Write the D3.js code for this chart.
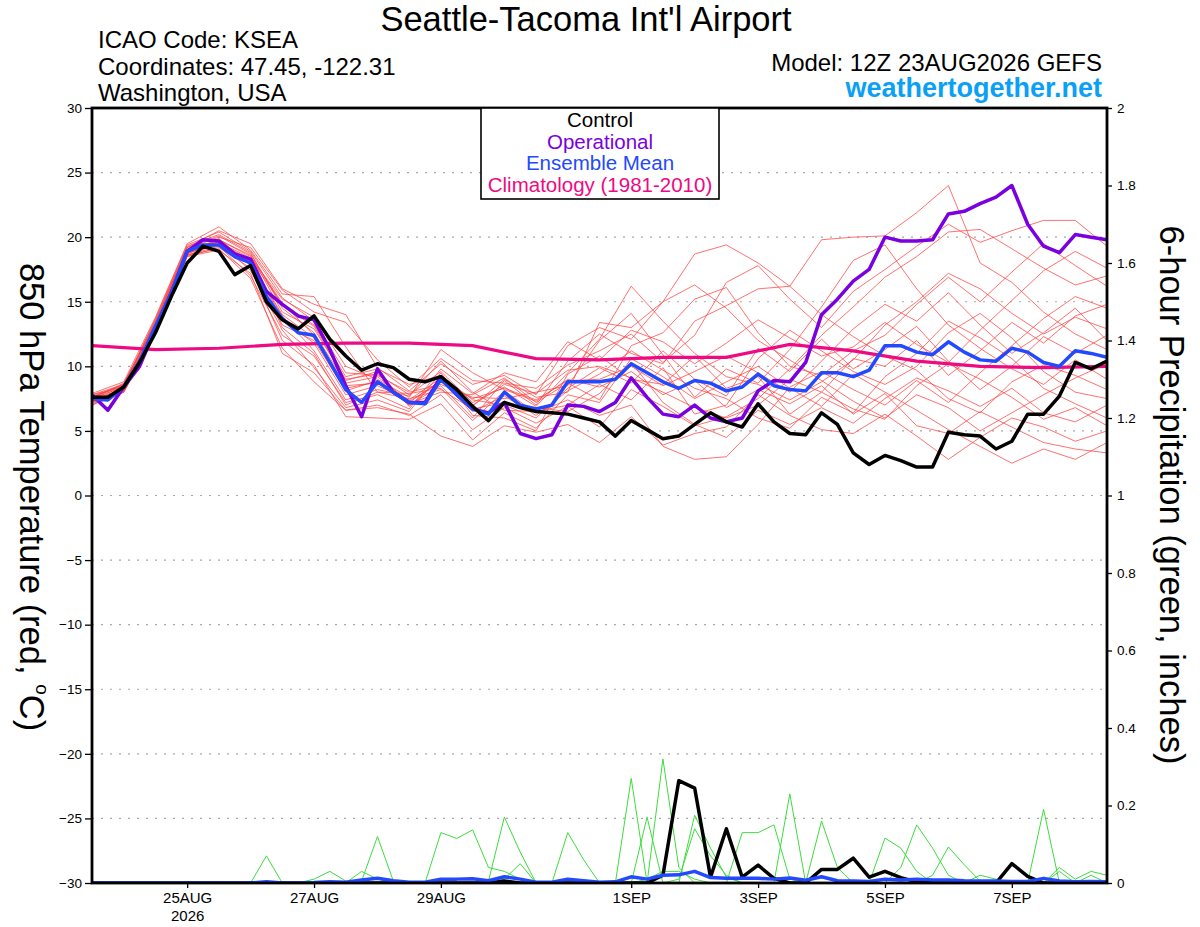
<!DOCTYPE html>
<html lang="en">
<head>
<meta charset="utf-8">
<title>KSEA GEFS 850 hPa Temperature</title>
<script src="https://cdnjs.cloudflare.com/ajax/libs/d3/7.8.5/d3.min.js"></script>
<style>
  body { margin: 0; background: #fff; }
  svg text { font-family: "Liberation Sans", Arial, sans-serif; }
</style>
</head>
<body>
<div id="chart"></div>
<script>
// run 12Z 23AUG2026, 6-hourly to 384h
const runStart = Date.UTC(2026, 7, 23, 12);
const runEnd = Date.UTC(2026, 8, 8, 12);
const tickDates = [Date.UTC(2026, 7, 25), Date.UTC(2026, 7, 27), Date.UTC(2026, 7, 29),
  Date.UTC(2026, 8, 1), Date.UTC(2026, 8, 3), Date.UTC(2026, 8, 5), Date.UTC(2026, 8, 7)];
const tempTicks = [-30, -25, -20, -15, -10, -5, 0, 5, 10, 15, 20, 25, 30];
const precipTicks = [0, 0.2, 0.4, 0.6, 0.8, 1, 1.2, 1.4, 1.6, 1.8, 2];
const legendItems = ["Control", "Operational", "Ensemble Mean", "Climatology (1981-2010)"];

// 850 hPa temperature, 6-hourly (65 points)
const control = [7.6, 7.6, 8.4, 10.3, 12.6, 15.4, 18.0, 19.3, 18.9, 17.1,
  17.8, 15.0, 13.6, 12.9, 13.9, 12.1, 10.8, 9.7, 10.2, 9.9,
  9.0, 8.8, 9.2, 8.2, 6.9, 5.8, 7.2, 6.8, 6.5, 6.4,
  6.3, 6.0, 5.7, 4.6, 5.8, 5.1, 4.4, 4.6, 5.5, 6.4,
  5.7, 5.3, 7.1, 5.7, 4.8, 4.7, 6.4, 5.5, 3.3, 2.4,
  3.1, 2.7, 2.2, 2.2, 4.9, 4.7, 4.6, 3.6, 4.2, 6.3,
  6.3, 7.7, 10.3, 9.8, 10.4];
const operational = [7.8, 6.6, 8.4, 10.0, 12.9, 15.7, 18.9, 19.8, 19.7, 18.7,
  18.3, 15.8, 14.8, 13.9, 13.6, 11.3, 8.5, 6.1, 9.8, 8.0,
  7.2, 7.2, 9.2, 7.8, 6.7, 6.4, 7.2, 4.8, 4.4, 4.7,
  7.0, 6.9, 6.5, 7.2, 9.1, 7.6, 6.3, 6.1, 7.0, 6.0,
  5.7, 6.0, 8.1, 8.9, 8.8, 10.3, 14.0, 15.2, 16.6, 17.5,
  20.0, 19.7, 19.7, 19.8, 21.8, 22.0, 22.6, 23.1, 24.0, 21.0,
  19.3, 18.8, 20.2, 20.0, 19.8];
const ensMean = [7.5, 7.4, 8.4, 10.4, 13.1, 15.7, 18.9, 19.4, 19.4, 18.5,
  18.0, 15.4, 13.7, 12.6, 12.4, 10.3, 8.2, 7.2, 8.8, 8.0,
  7.2, 7.1, 9.0, 7.8, 6.7, 6.3, 8.0, 7.0, 6.7, 7.0,
  8.8, 8.8, 8.8, 9.0, 10.2, 9.5, 8.8, 8.3, 8.9, 8.7,
  8.1, 8.4, 9.4, 8.5, 8.2, 8.1, 9.5, 9.5, 9.2, 9.7,
  11.6, 11.6, 11.1, 10.9, 11.9, 11.1, 10.5, 10.4, 11.4, 11.1,
  10.3, 10.0, 11.2, 11.0, 10.7];
// daily climatology (17 points)
const climatology = [11.6, 11.3, 11.4, 11.7, 11.8, 11.8, 11.6, 10.6, 10.5,
  10.7, 10.7, 11.7, 11.2, 10.4, 10.0, 9.9, 10.0];

// ensemble members, 12-hourly (33 points)
const members = [
  [7.3, 8.2, 12.8, 18.7, 19.8, 18.6, 14.2, 12.9, 9.0, 9.4, 7.8, 9.6, 7.2, 8.4, 6.9, 9.5, 12.1, 16.2, 13.5, 11.0, 9.2, 8.6, 7.4, 8.8, 10.5, 13.2, 15.0, 17.2, 16.0, 14.1, 12.5, 13.8, 12.9],
  [7.8, 8.6, 13.5, 19.2, 20.5, 19.5, 16.0, 14.8, 14.0, 9.9, 8.1, 10.2, 8.6, 9.3, 7.8, 11.6, 13.0, 12.1, 15.0, 18.7, 19.4, 18.0, 16.2, 14.0, 12.3, 10.8, 9.7, 7.5, 6.4, 8.8, 10.1, 9.3, 8.2],
  [7.0, 8.0, 12.6, 18.5, 19.0, 17.2, 11.0, 9.5, 6.6, 7.0, 6.2, 7.8, 5.1, 6.8, 5.6, 6.9, 5.3, 8.2, 6.9, 5.4, 6.1, 7.5, 9.8, 12.4, 14.6, 16.9, 18.5, 20.4, 20.6, 19.1, 17.6, 16.3, 17.0],
  [7.6, 8.5, 13.3, 19.0, 19.4, 18.1, 13.6, 11.8, 7.8, 8.5, 7.4, 9.1, 6.5, 7.7, 6.2, 8.1, 9.4, 11.2, 9.7, 8.3, 7.5, 6.0, 5.2, 7.6, 6.4, 9.2, 11.0, 13.5, 12.2, 10.6, 8.3, 7.1, 6.0],
  [7.2, 8.3, 13.0, 18.8, 19.9, 17.8, 13.2, 12.0, 8.1, 8.9, 7.0, 8.5, 6.0, 8.9, 7.0, 10.4, 12.5, 11.0, 10.2, 13.5, 14.7, 16.0, 16.2, 19.8, 20.0, 20.1, 21.9, 24.0, 18.0, 16.5, 14.2, 12.5, 11.3],
  [7.5, 8.4, 13.1, 19.0, 19.6, 18.4, 15.2, 13.8, 10.0, 9.0, 7.6, 11.3, 9.5, 8.2, 7.3, 9.0, 8.4, 9.6, 7.8, 8.9, 6.8, 8.2, 7.1, 8.5, 6.3, 7.9, 5.4, 4.8, 6.5, 5.3, 4.1, 3.6, 3.3],
  [7.4, 8.1, 12.9, 18.6, 19.3, 17.0, 12.4, 10.8, 7.2, 7.8, 6.7, 9.8, 7.9, 9.5, 8.8, 11.9, 10.5, 12.8, 11.9, 10.2, 11.8, 13.6, 12.2, 10.8, 11.5, 13.4, 11.7, 10.3, 12.8, 15.1, 17.4, 18.9, 17.6],
  [7.9, 8.8, 13.8, 19.5, 20.8, 19.0, 15.6, 15.4, 11.5, 8.0, 7.9, 8.3, 5.8, 8.1, 6.4, 7.4, 6.2, 7.0, 3.8, 2.8, 3.0, 5.5, 8.4, 9.6, 8.2, 7.0, 8.9, 7.2, 9.5, 11.6, 13.7, 15.4, 14.5],
  [7.1, 8.0, 12.5, 18.9, 19.5, 18.3, 14.8, 13.2, 9.2, 9.8, 8.6, 9.3, 7.4, 7.0, 6.0, 8.3, 9.9, 8.7, 11.2, 9.0, 7.7, 11.4, 9.6, 12.1, 9.8, 11.3, 13.1, 10.4, 8.2, 10.0, 12.3, 11.0, 12.4],
  [7.6, 8.6, 13.6, 19.3, 20.2, 18.8, 14.5, 12.6, 8.7, 9.2, 7.3, 8.8, 6.9, 9.0, 7.6, 8.0, 13.4, 13.0, 15.0, 16.3, 14.5, 12.0, 10.5, 8.9, 7.3, 6.0, 7.8, 6.8, 5.0, 6.4, 7.8, 9.1, 10.2],
  [7.3, 8.3, 12.7, 18.5, 19.2, 17.6, 12.0, 10.1, 6.1, 6.0, 5.9, 7.1, 4.3, 6.4, 5.2, 7.8, 7.2, 10.6, 9.2, 7.5, 8.8, 10.0, 8.3, 6.9, 9.4, 8.0, 6.6, 5.1, 3.8, 2.5, 3.6, 2.8, 4.1],
  [7.7, 8.5, 13.4, 19.1, 20.0, 19.2, 15.9, 14.2, 13.4, 10.5, 8.4, 10.6, 8.9, 8.7, 8.3, 10.1, 11.2, 12.5, 10.3, 12.4, 16.5, 17.8, 15.2, 13.0, 15.8, 17.5, 19.3, 21.0, 19.6, 20.5, 21.3, 21.3, 19.3],
  [7.2, 8.0, 12.6, 18.7, 19.7, 17.4, 12.8, 9.9, 6.8, 7.4, 6.5, 9.5, 6.2, 6.0, 5.0, 9.4, 10.8, 9.0, 8.6, 10.8, 8.3, 9.2, 6.3, 8.0, 6.7, 5.9, 8.5, 10.2, 9.0, 7.6, 5.9, 6.8, 5.4],
  [7.5, 8.7, 13.2, 18.9, 19.8, 18.5, 14.9, 12.4, 8.5, 8.7, 7.1, 8.0, 7.8, 9.1, 7.2, 8.7, 7.4, 11.6, 12.6, 15.2, 16.1, 12.6, 10.0, 9.3, 11.2, 12.4, 14.8, 16.9, 15.0, 17.3, 19.5, 17.8, 16.2],
  [7.0, 8.2, 12.9, 18.6, 19.1, 16.8, 11.4, 8.8, 6.6, 6.8, 6.3, 4.6, 3.8, 5.4, 4.9, 5.5, 4.1, 6.1, 3.9, 4.8, 5.3, 7.8, 6.2, 5.1, 4.8, 6.3, 4.6, 2.8, 4.5, 6.0, 5.3, 4.2, 5.0],
  [7.8, 8.4, 13.7, 19.4, 20.4, 18.9, 15.3, 13.5, 9.5, 9.3, 8.0, 8.6, 7.6, 7.5, 8.0, 8.5, 12.0, 14.1, 10.9, 7.6, 9.8, 8.7, 11.3, 14.6, 18.2, 19.4, 16.0, 13.2, 11.4, 9.8, 8.6, 10.5, 9.0],
  [7.4, 8.3, 13.0, 18.8, 19.4, 17.9, 13.9, 11.2, 7.4, 8.2, 7.7, 10.4, 8.0, 6.6, 6.5, 7.0, 8.6, 7.4, 9.9, 6.3, 7.0, 10.6, 12.8, 11.2, 9.6, 8.6, 10.0, 12.6, 14.1, 12.2, 9.6, 8.0, 7.5],
  [7.6, 8.6, 13.4, 19.2, 20.1, 18.7, 14.7, 13.1, 8.9, 9.6, 6.9, 9.0, 7.0, 8.6, 7.9, 9.7, 10.0, 9.1, 8.0, 6.8, 6.0, 7.0, 9.0, 8.0, 10.6, 10.0, 12.0, 9.3, 11.2, 13.4, 11.8, 13.9, 14.8],
  [7.3, 8.1, 12.8, 18.6, 19.5, 18.2, 13.0, 11.0, 7.0, 8.0, 7.5, 8.2, 6.7, 7.2, 6.8, 6.5, 7.9, 10.3, 7.2, 5.5, 4.5, 6.6, 5.5, 6.8, 5.6, 7.5, 9.1, 8.1, 6.9, 8.3, 6.4, 5.7, 7.0],
  [7.5, 8.4, 13.1, 18.9, 19.6, 18.0, 14.0, 12.2, 8.3, 8.8, 7.2, 8.9, 7.5, 8.3, 7.4, 8.9, 9.0, 10.0, 8.5, 9.6, 10.8, 9.5, 8.0, 10.4, 12.9, 14.8, 13.5, 15.7, 13.2, 11.0, 12.6, 14.5, 12.0]
];

// 6-hour precipitation (inches), 6-hourly (65 points)
const controlPrecip = [0, 0, 0, 0, 0, 0, 0, 0, 0, 0,
  0, 0, 0, 0, 0, 0, 0, 0, 0, 0,
  0, 0, 0, 0, 0, 0, 0.005, 0, 0, 0,
  0, 0, 0, 0, 0, 0, 0.02, 0.264, 0.245, 0.015,
  0.14, 0.015, 0.046, 0.012, 0, 0, 0.035, 0.035, 0.064, 0.015,
  0.03, 0.014, 0.003, 0, 0, 0, 0, 0, 0.05, 0.017,
  0, 0, 0, 0, 0];
const meanPrecip = [0, 0, 0, 0, 0, 0, 0, 0, 0, 0,
  0, 0.003, 0, 0, 0.001, 0.003, 0.002, 0.008, 0.012, 0.006,
  0.002, 0.002, 0.01, 0.01, 0.011, 0.006, 0.016, 0.01, 0.002, 0.002,
  0.01, 0.006, 0.002, 0.003, 0.016, 0.01, 0.02, 0.021, 0.03, 0.014,
  0.012, 0.012, 0.012, 0.01, 0.013, 0.007, 0.016, 0.006, 0.005, 0.004,
  0.01, 0.008, 0.01, 0.008, 0.008, 0.006, 0.005, 0.005, 0.004, 0.004,
  0.012, 0.005, 0.003, 0.004, 0.003];
const memberPrecip = [
  [0.003, 0, 0, 0, 0, 0, 0, 0, 0, 0, 0, 0.07, 0, 0, 0, 0, 0, 0, 0, 0, 0, 0, 0, 0, 0, 0, 0, 0, 0, 0, 0, 0, 0, 0, 0, 0, 0, 0, 0, 0, 0, 0, 0, 0, 0, 0, 0, 0, 0, 0, 0, 0, 0, 0, 0, 0, 0, 0, 0, 0, 0, 0, 0, 0, 0],
  [0, 0, 0, 0, 0, 0, 0, 0, 0, 0, 0, 0, 0, 0, 0.01, 0.03, 0.005, 0, 0, 0, 0, 0, 0, 0, 0, 0, 0, 0, 0, 0, 0.13, 0.06, 0, 0, 0, 0, 0, 0, 0, 0, 0, 0, 0, 0, 0, 0, 0, 0, 0, 0, 0, 0, 0, 0, 0, 0, 0, 0, 0, 0, 0.19, 0, 0, 0, 0],
  [0, 0, 0, 0, 0, 0, 0, 0, 0, 0, 0, 0, 0, 0, 0, 0, 0, 0.005, 0.12, 0.005, 0, 0, 0, 0, 0, 0, 0, 0, 0, 0, 0, 0, 0, 0, 0, 0.17, 0, 0, 0, 0, 0, 0, 0, 0, 0, 0, 0.16, 0.04, 0, 0, 0, 0, 0, 0, 0, 0, 0, 0, 0, 0, 0, 0, 0, 0, 0],
  [0, 0, 0, 0, 0, 0, 0, 0, 0, 0, 0, 0, 0, 0, 0, 0, 0, 0.03, 0.01, 0, 0, 0, 0, 0, 0, 0, 0, 0, 0, 0, 0, 0, 0, 0, 0.27, 0, 0, 0, 0, 0, 0, 0, 0, 0, 0, 0, 0, 0, 0, 0, 0.116, 0.09, 0.03, 0, 0, 0, 0, 0, 0, 0, 0, 0, 0, 0, 0],
  [0, 0, 0, 0, 0, 0, 0, 0, 0, 0, 0, 0, 0, 0, 0, 0, 0, 0, 0, 0, 0, 0, 0.13, 0.115, 0.137, 0.04, 0.03, 0.01, 0, 0, 0, 0, 0, 0, 0, 0, 0, 0, 0, 0, 0, 0, 0, 0, 0.23, 0, 0, 0, 0, 0, 0, 0, 0, 0, 0, 0, 0, 0, 0, 0, 0, 0, 0, 0, 0],
  [0, 0, 0, 0, 0, 0, 0, 0, 0, 0, 0, 0, 0, 0, 0, 0, 0, 0, 0, 0, 0, 0, 0, 0, 0, 0.005, 0.17, 0.08, 0, 0, 0, 0, 0, 0, 0, 0, 0.32, 0.04, 0, 0, 0, 0, 0, 0, 0, 0, 0, 0, 0, 0, 0, 0, 0, 0.02, 0.093, 0.047, 0.005, 0, 0, 0, 0, 0, 0, 0, 0],
  [0, 0, 0, 0, 0, 0, 0, 0, 0, 0, 0, 0, 0, 0, 0, 0, 0, 0, 0, 0, 0, 0, 0, 0, 0, 0, 0.01, 0.05, 0, 0, 0, 0, 0, 0, 0, 0, 0, 0, 0.175, 0.09, 0.015, 0, 0, 0, 0, 0, 0, 0, 0, 0, 0, 0, 0, 0, 0, 0, 0, 0, 0, 0, 0, 0.03, 0, 0, 0],
  [0, 0, 0, 0, 0, 0, 0, 0, 0, 0, 0, 0, 0, 0, 0, 0, 0, 0, 0, 0, 0, 0, 0, 0, 0, 0, 0, 0, 0, 0, 0, 0, 0, 0, 0, 0, 0, 0.01, 0.14, 0.07, 0.02, 0, 0, 0, 0, 0, 0, 0, 0, 0, 0, 0.04, 0.15, 0.09, 0.02, 0, 0, 0, 0, 0, 0, 0, 0, 0, 0],
  [0, 0, 0, 0, 0, 0, 0, 0, 0, 0, 0, 0, 0, 0, 0, 0, 0, 0, 0, 0, 0, 0, 0, 0, 0, 0, 0, 0, 0, 0, 0, 0, 0, 0, 0, 0, 0, 0, 0, 0, 0, 0.13, 0.13, 0.15, 0.01, 0, 0, 0, 0, 0, 0, 0, 0, 0, 0, 0, 0, 0, 0, 0, 0, 0, 0, 0.02, 0],
  [0, 0, 0, 0, 0, 0, 0, 0, 0, 0, 0, 0, 0, 0, 0, 0, 0, 0, 0, 0, 0, 0, 0, 0, 0, 0, 0, 0, 0, 0, 0, 0, 0, 0, 0, 0.01, 0.03, 0.03, 0.01, 0, 0, 0, 0, 0, 0, 0, 0, 0, 0, 0, 0, 0, 0, 0, 0, 0, 0.02, 0.01, 0, 0, 0, 0.04, 0.01, 0.03, 0.02]
];

const W = 1200, H = 927;
const plot = { left: 92, right: 1107, top: 108, bottom: 883 };

const svg = d3.select("#chart").append("svg")
  .attr("width", W).attr("height", H)
  .style("display", "block");

const x = d3.scaleUtc().domain([runStart, runEnd]).range([plot.left, plot.right]);
const yT = d3.scaleLinear().domain([-30, 30]).range([plot.bottom, plot.top]);
const yP = d3.scaleLinear().domain([0, 2]).range([plot.bottom, plot.top]);

// time of the i-th point for a series sampled every `hours`
const at = (i, hours) => new Date(runStart + i * hours * 3600e3);
const tempLine = hours => d3.line().x((d, i) => x(at(i, hours))).y(d => yT(d));
const precipLine = d3.line().x((d, i) => x(at(i, 6))).y(d => yP(d));

svg.append("defs").append("clipPath").attr("id", "plotclip")
  .append("rect")
  .attr("x", plot.left).attr("y", plot.top)
  .attr("width", plot.right - plot.left).attr("height", plot.bottom - plot.top);

// dotted grid every 5 deg
svg.append("g").selectAll("line")
  .data(tempTicks.filter(v => v > -30 && v < 30))
  .join("line")
  .attr("x1", plot.left).attr("x2", plot.right)
  .attr("y1", d => yT(d)).attr("y2", d => yT(d))
  .attr("stroke", "#a8a8a8").attr("stroke-width", 1.2)
  .attr("stroke-dasharray", "2,7");

const g = svg.append("g").attr("clip-path", "url(#plotclip)");

g.selectAll(".member")
  .data(members)
  .join("path")
  .attr("class", "member")
  .attr("d", tempLine(12))
  .attr("fill", "none")
  .attr("stroke", "#ff4545").attr("stroke-opacity", 0.85).attr("stroke-width", 0.9);

g.selectAll(".pmember")
  .data(memberPrecip)
  .join("path")
  .attr("class", "pmember")
  .attr("d", precipLine)
  .attr("fill", "none")
  .attr("stroke", "#3ddc3d").attr("stroke-width", 1);

g.append("path").datum(climatology)
  .attr("d", tempLine(24))
  .attr("fill", "none").attr("stroke", "#ee0a82").attr("stroke-width", 3.2);

g.append("path").datum(operational)
  .attr("d", tempLine(6))
  .attr("fill", "none").attr("stroke", "#7a00e0").attr("stroke-width", 3.5)
  .attr("stroke-linejoin", "round");

g.append("path").datum(ensMean)
  .attr("d", tempLine(6))
  .attr("fill", "none").attr("stroke", "#2349ff").attr("stroke-width", 3.5)
  .attr("stroke-linejoin", "round");

g.append("path").datum(control)
  .attr("d", tempLine(6))
  .attr("fill", "none").attr("stroke", "#000").attr("stroke-width", 3.5)
  .attr("stroke-linejoin", "round");

g.append("path").datum(controlPrecip)
  .attr("d", precipLine)
  .attr("fill", "none").attr("stroke", "#000").attr("stroke-width", 3.5)
  .attr("stroke-linejoin", "round");

g.append("path").datum(meanPrecip)
  .attr("d", precipLine)
  .attr("fill", "none").attr("stroke", "#2349ff").attr("stroke-width", 3.5)
  .attr("stroke-linejoin", "round");

// axes
const styleAxis = (sel, size) => {
  sel.select(".domain").remove();
  sel.selectAll(".tick line").attr("stroke", "#000").attr("stroke-width", 1.3);
  sel.selectAll(".tick text").attr("fill", "#000")
    .style("font-family", "'Liberation Sans', Arial, sans-serif")
    .style("font-size", size + "px");
};

svg.append("g")
  .attr("transform", `translate(${plot.left},0)`)
  .call(d3.axisLeft(yT).tickValues(tempTicks).tickSize(7).tickPadding(3))
  .call(sel => styleAxis(sel, 13.5));

svg.append("g")
  .attr("transform", `translate(${plot.right},0)`)
  .call(d3.axisRight(yP).tickValues(precipTicks).tickSize(5).tickPadding(5)
    .tickFormat(d => d3.format("~g")(+d.toFixed(1))))
  .call(sel => styleAxis(sel, 13.5));

const fmtDay = d3.utcFormat("%-d%b");
const xAxis = svg.append("g")
  .attr("transform", `translate(0,${plot.bottom})`)
  .call(d3.axisBottom(x).tickValues(tickDates.map(d => new Date(d))).tickSize(5).tickPadding(4)
    .tickFormat(d => fmtDay(d).toUpperCase()))
  .call(sel => styleAxis(sel, 15));
xAxis.select(".tick text")
  .append("tspan").attr("x", 0).attr("dy", "1.25em").text("2026");

// frame
svg.append("rect")
  .attr("x", plot.left).attr("y", plot.top)
  .attr("width", plot.right - plot.left).attr("height", plot.bottom - plot.top)
  .attr("fill", "none").attr("stroke", "#000").attr("stroke-width", 2.8);

// legend box
const legend = svg.append("g");
legend.append("rect")
  .attr("x", 481).attr("y", plot.top).attr("width", 238).attr("height", 91)
  .attr("fill", "#fff").attr("stroke", "#000").attr("stroke-width", 1.6);
const legendColors = ["#000", "#7a00e0", "#2349ff", "#ee0a82"];
legend.selectAll("text")
  .data(legendItems)
  .join("text")
  .attr("x", 600).attr("y", (d, i) => 127 + i * 21.7)
  .attr("text-anchor", "middle")
  .attr("font-size", 20.5)
  .attr("fill", (d, i) => legendColors[i])
  .text(d => d);

// titles
svg.append("text")
  .attr("x", 586).attr("y", 31)
  .attr("text-anchor", "middle").attr("font-size", 34.5)
  .text("Seattle-Tacoma Int'l Airport");

svg.selectAll(".info")
  .data(["ICAO Code: KSEA", "Coordinates: 47.45, -122.31", "Washington, USA"])
  .join("text")
  .attr("class", "info")
  .attr("x", 98).attr("y", (d, i) => 48 + i * 26.5)
  .attr("font-size", 24)
  .text(d => d);

svg.append("text")
  .attr("x", 1102).attr("y", 71)
  .attr("text-anchor", "end").attr("font-size", 24)
  .text("Model: 12Z 23AUG2026 GEFS");

svg.append("text")
  .attr("x", 1102).attr("y", 97)
  .attr("text-anchor", "end").attr("font-size", 27).attr("font-weight", "bold")
  .attr("fill", "#0aa0f5")
  .text("weathertogether.net");

const leftTitle = svg.append("text")
  .attr("transform", "translate(32,497) rotate(90)")
  .attr("text-anchor", "middle").attr("dominant-baseline", "central")
  .attr("font-size", 34.5);
leftTitle.append("tspan").text("850 hPa Temperature (red, ");
leftTitle.append("tspan").attr("font-size", 19).attr("dy", -11).text("o");
leftTitle.append("tspan").attr("dy", 11).text("C)");

svg.append("text")
  .attr("transform", "translate(1172,495) rotate(90)")
  .attr("text-anchor", "middle").attr("dominant-baseline", "central")
  .attr("font-size", 34.5)
  .text("6-hour Precipitation (green, inches)");
</script>
</body>
</html>
